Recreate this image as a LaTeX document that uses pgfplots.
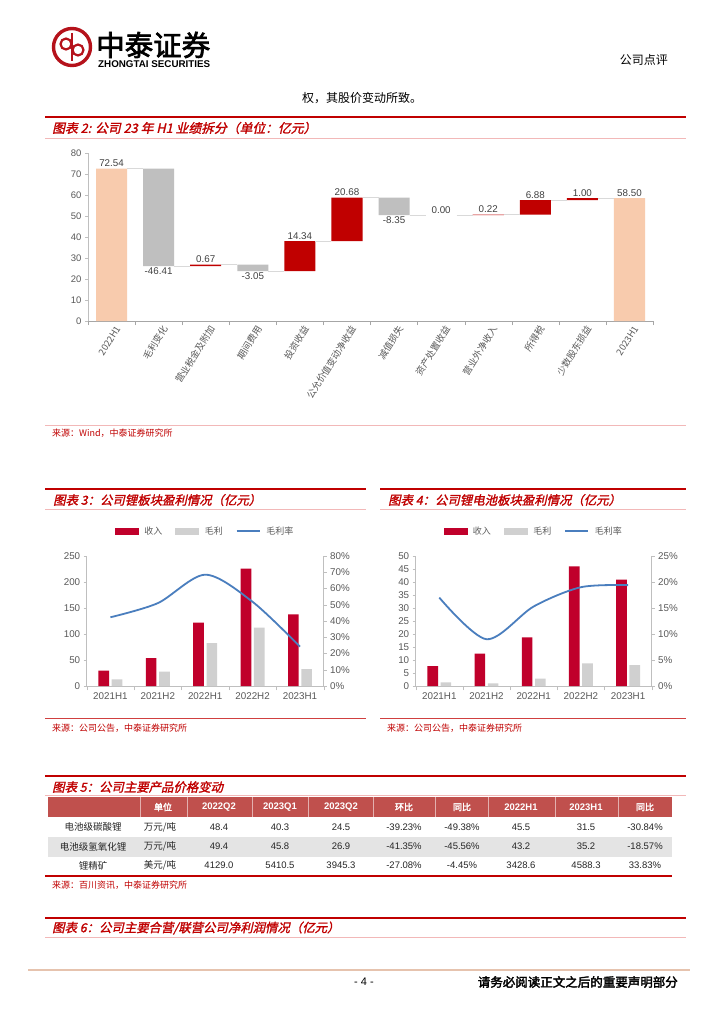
\documentclass[border=0pt]{standalone}
\usepackage{fontspec}
\setmainfont{Liberation Sans}
\newfontfamily\cjk{Noto Sans CJK SC}
\newfontfamily\cjkt[FakeSlant=0.22,FakeBold=1.6]{Noto Sans CJK SC}
\newfontfamily\cjkb[FakeBold=2.5]{Noto Sans CJK SC}
\usepackage{pgfplots}
\pgfplotsset{compat=1.18}
\usepackage{pgfplotstable}

\definecolor{titlered}{HTML}{C00000}
\definecolor{pinkline}{HTML}{F2B8B8}
\definecolor{peach}{HTML}{F8CBAD}
\definecolor{wfred}{HTML}{C00000}
\definecolor{wfgray}{HTML}{BFBFBF}
\definecolor{axgray}{HTML}{A6A6A6}
\definecolor{txtgray}{HTML}{595959}
\definecolor{wflab}{HTML}{404040}
\definecolor{conn}{HTML}{D9D9D9}
\definecolor{barred}{HTML}{C0002B}
\definecolor{bargray}{HTML}{D0D0D0}
\definecolor{lineblue}{HTML}{4A7EBE}
\definecolor{hdrred}{HTML}{C0504D}
\definecolor{rowgray}{HTML}{E4E4E4}
\definecolor{footline}{HTML}{E6C3AE}
\definecolor{logored}{HTML}{B5121B}
\definecolor{bodytxt}{HTML}{262626}

\newcommand{\fs}[1]{\fontsize{#1}{#1}\selectfont}

\pgfplotsset{/pgf/number format/assume math mode=true}

% waterfall: invisible base, start/end totals, increases, decreases
\pgfplotstableread{
x base total inc dec
0 0 72.54 0 0
1 26.13 0 0 46.41
2 26.13 0 0.67 0
3 23.75 0 0 3.05
4 23.75 0 14.34 0
5 38.09 0 20.68 0
6 50.42 0 0 8.35
7 50.42 0 0.00 0
8 50.42 0 0.22 0
9 50.64 0 6.88 0
10 57.52 0 1.00 0
11 0 58.50 0 0
}\wfdata
\pgfplotstableread{
x y lab
0 72.54 72.54
2 26.80 0.67
4 38.09 14.34
5 58.77 20.68
7 50.42 0.00
8 50.64 0.22
9 57.52 6.88
10 58.52 1.00
11 58.50 58.50
}\wfpos
\pgfplotstableread{
x y lab
1 26.13 -46.41
3 23.75 -3.05
6 50.42 -8.35
}\wfneg

\pgfplotsset{
  twoax/.style={scale only axis, anchor=south west,
    xmin=-0.5, xmax=4.5, xtick={0,...,4},
    xticklabels={2021H1,2021H2,2022H1,2022H2,2023H1},
    minor xtick={-0.5,0.5,...,4.5},
    major x tick style={draw=none},
    minor x tick style={draw=wfgray},
    minor tick length=4pt, major tick length=3pt,
    tick align=outside,
    axis x line*=bottom, axis y line*=left,
    axis line style={draw=wfgray, line width=0.7pt},
    ytick style={draw=wfgray},
    tick label style={font=\fs{9.8}, text=txtgray},
    ybar, bar width=0.225, clip=false},
  rightax/.style={scale only axis, anchor=south west,
    xmin=-0.5, xmax=4.5, axis x line=none, xtick=\empty,
    axis y line*=right, tick align=outside, major tick length=3pt,
    axis line style={draw=wfgray, line width=0.7pt},
    ytick style={draw=wfgray},
    tick label style={font=\fs{9.8}, text=txtgray},
    yticklabel={\pgfmathprintnumber[assume math mode=true]{\tick}\%}},
  mylegend/.style={legend style={at={(0.5,1)}, anchor=south, yshift=16pt,
    draw=none, fill=none, legend columns=3, font=\fs{9}\cjk, text=txtgray,
    /tikz/every even column/.append style={column sep=11pt},
    /tikz/every odd column/.append style={column sep=4pt}}},
  swr/.style={legend image code/.code={\fill[barred] (0pt,-2.6pt) rectangle (23pt,2.6pt);}},
  swg/.style={legend image code/.code={\fill[bargray] (0pt,-2.6pt) rectangle (23pt,2.6pt);}},
  swl/.style={legend image code/.code={\draw[lineblue,line width=1.6pt] (0pt,0pt) -- (23pt,0pt);}},
}

\begin{document}
\begin{tikzpicture}
\path[use as bounding box] (0pt,0pt) rectangle (724pt,-1024pt);
\fill[white] (0pt,0pt) rectangle (724pt,-1024pt);

\begin{scope}[x=1pt,y=-1pt]
% ---------- header ----------
\draw[logored,line width=3.4pt] (72,47) circle (18.5);
\draw[logored,line width=2.6pt] (72,33) -- (72,61);
\draw[logored,line width=2.2pt] (66,44) circle (5.5);
\draw[logored,line width=2.2pt] (78,50) circle (5.5);
\node[anchor=west, inner sep=0] at (96,45) {\fs{28.5}\cjkb 中泰证券};
\node[anchor=west, inner sep=0] at (98,64) {\fs{9.8}\bfseries ZHONGTAI SECURITIES};
\node[anchor=east, inner sep=0] at (668,60) {\fs{12}\cjk 公司点评};
\node[inner sep=0] at (362,98) {\fs{12}\cjk 权，其股价变动所致。};

% ---------- figure 2 ----------
\draw[titlered, line width=2.2pt] (45,117) -- (686,117);
\node[anchor=west, inner sep=0, text=titlered] at (52,128) {\fs{12.8}\cjkt 图表 2: 公司 23 年 H1 业绩拆分（单位：亿元）};
\draw[pinkline, line width=0.9pt] (45,138) -- (686,138);
\draw[pinkline, line width=0.9pt] (45,425) -- (686,425);
\node[anchor=west, inner sep=0, text=titlered] at (52,433) {\fs{9}\cjk 来源：Wind，中泰证券研究所};

% ---------- figure 3 / 4 ----------
\draw[titlered, line width=2pt] (45,489) -- (366,489);
\node[anchor=west, inner sep=0, text=titlered] at (53,500) {\fs{12.4}\cjkt 图表 3：公司锂板块盈利情况（亿元）};
\draw[pinkline, line width=0.9pt] (45,509.5) -- (366,509.5);
\draw[titlered!75, line width=0.9pt] (45,718) -- (366,718);
\node[anchor=west, inner sep=0, text=titlered] at (52,728) {\fs{9}\cjk 来源：公司公告，中泰证券研究所};

\draw[titlered, line width=2pt] (380,489) -- (686,489);
\node[anchor=west, inner sep=0, text=titlered] at (388,500) {\fs{12.4}\cjkt 图表 4：公司锂电池板块盈利情况（亿元）};
\draw[pinkline, line width=0.9pt] (380,509.5) -- (686,509.5);
\draw[titlered!75, line width=0.9pt] (380,718) -- (686,718);
\node[anchor=west, inner sep=0, text=titlered] at (387,728) {\fs{9}\cjk 来源：公司公告，中泰证券研究所};

% ---------- figure 5 (table) ----------
\draw[titlered, line width=2pt] (45,776) -- (686,776);
\node[anchor=west, inner sep=0, text=titlered] at (52,787) {\fs{12.4}\cjkt 图表 5：公司主要产品价格变动};
\draw[pinkline, line width=0.9pt] (45,795.5) -- (686,795.5);
\fill[hdrred] (48,797) rectangle (672,817);
\fill[rowgray] (48,837) rectangle (672,856.5);
\foreach \xx in {140,187,252,308,373,435,488,555,618}
  \draw[white!55!hdrred, line width=0.6pt] (\xx,797) -- (\xx,817);
\draw[titlered, line width=1.1pt] (45,876) -- (672,876);
\begin{scope}[every node/.style={inner sep=0, text=white}]
\node at (163,807) {\fs{9}\cjkb 单位};
\node at (219,807) {\fs{9.5}\bfseries 2022Q2};
\node at (280,807) {\fs{9.5}\bfseries 2023Q1};
\node at (341,807) {\fs{9.5}\bfseries 2023Q2};
\node at (404,807) {\fs{9}\cjkb 环比};
\node at (462,807) {\fs{9}\cjkb 同比};
\node at (521,807) {\fs{9.5}\bfseries 2022H1};
\node at (586,807) {\fs{9.5}\bfseries 2023H1};
\node at (645,807) {\fs{9}\cjkb 同比};
\end{scope}
\begin{scope}[every node/.style={inner sep=0, text=bodytxt, font=\fs{9.5}}]
\node at (93,827) {\cjk 电池级碳酸锂};
\node at (160,827) {\cjk 万元/吨};
\node at (219,827) {48.4};
\node at (280,827) {40.3};
\node at (341,827) {24.5};
\node at (404,827) {-39.23\%};
\node at (462,827) {-49.38\%};
\node at (521,827) {45.5};
\node at (586,827) {31.5};
\node at (645,827) {-30.84\%};
\node at (93,846.5) {\cjk 电池级氢氧化锂};
\node at (160,846.5) {\cjk 万元/吨};
\node at (219,846.5) {49.4};
\node at (280,846.5) {45.8};
\node at (341,846.5) {26.9};
\node at (404,846.5) {-41.35\%};
\node at (462,846.5) {-45.56\%};
\node at (521,846.5) {43.2};
\node at (586,846.5) {35.2};
\node at (645,846.5) {-18.57\%};
\node at (93,865.5) {\cjk 锂精矿};
\node at (160,865.5) {\cjk 美元/吨};
\node at (219,865.5) {4129.0};
\node at (280,865.5) {5410.5};
\node at (341,865.5) {3945.3};
\node at (404,865.5) {-27.08\%};
\node at (462,865.5) {-4.45\%};
\node at (521,865.5) {3428.6};
\node at (586,865.5) {4588.3};
\node at (645,865.5) {33.83\%};
\end{scope}
\node[anchor=west, inner sep=0, text=titlered] at (52,885) {\fs{9}\cjk 来源：百川资讯，中泰证券研究所};

% ---------- figure 6 ----------
\draw[titlered, line width=2pt] (45,918) -- (686,918);
\node[anchor=west, inner sep=0, text=titlered] at (52,928) {\fs{12.4}\cjkt 图表 6：公司主要合营/联营公司净利润情况（亿元）};
\draw[pinkline, line width=0.9pt] (45,937.5) -- (686,937.5);

% ---------- footer ----------
\draw[footline, line width=1.6pt] (28,970) -- (690,970);
\node[inner sep=0] at (364,982) {\fs{11}- 4 -};
\node[anchor=east, inner sep=0] at (678,982) {\fs{12.5}\cjkb 请务必阅读正文之后的重要声明部分};
\end{scope}

% ================= Figure 2: waterfall =================
\begin{axis}[at={(88pt,-321pt)}, anchor=south west, scale only axis,
  width=565pt, height=168pt,
  ybar stacked, bar width=0.66,
  xmin=-0.5, xmax=11.5, ymin=0, ymax=80,
  ytick={0,10,...,80},
  xtick={0,...,11},
  xticklabels={2022H1,毛利变化,营业税金及附加,期间费用,投资收益,公允价值变动净收益,减值损失,资产处置收益,营业外净收入,所得税,少数股东损益,2023H1},
  minor xtick={-0.5,0.5,...,11.5},
  major x tick style={draw=none},
  minor x tick style={draw=axgray},
  minor tick length=4pt, major tick length=3pt,
  tick align=outside,
  axis x line*=bottom, axis y line*=left,
  x axis line style={draw=axgray, line width=1pt},
  y axis line style={draw=wfgray, line width=0.7pt},
  ytick style={draw=wfgray},
  yticklabel style={font=\fs{9.5}, text=txtgray},
  xticklabel style={font=\fs{9.3}\cjk, text=txtgray, rotate=58, anchor=east, xshift=4.5pt, yshift=-7pt},
  clip=false]
\addplot[draw=none, fill=none] table[x=x, y=base] \wfdata;
\addplot[draw=none, fill=peach] table[x=x, y=total] \wfdata;
\addplot[draw=none, fill=wfred] table[x=x, y=inc] \wfdata;
\addplot[draw=none, fill=wfgray] table[x=x, y=dec] \wfdata;
\end{axis}

\begin{axis}[at={(88pt,-321pt)}, anchor=south west, scale only axis,
  width=565pt, height=168pt,
  xmin=-0.5, xmax=11.5, ymin=0, ymax=80, hide axis, clip=false]
\addplot[conn, line width=0.9pt, unbounded coords=jump] coordinates {
 (0.33,72.54) (0.67,72.54) (0.8,nan)
 (1.33,26.13) (1.67,26.13) (1.8,nan)
 (2.33,26.80) (2.67,26.80) (2.8,nan)
 (3.33,23.75) (3.67,23.75) (3.8,nan)
 (4.33,38.09) (4.67,38.09) (4.8,nan)
 (5.33,58.77) (5.67,58.77) (5.8,nan)
 (6.33,50.42) (6.67,50.42) (6.8,nan)
 (7.33,50.42) (7.67,50.42) (7.8,nan)
 (8.33,50.64) (8.67,50.64) (8.8,nan)
 (9.33,57.52) (9.67,57.52) (9.8,nan)
 (10.33,58.52) (10.67,58.52)
};
\addplot[draw=none, nodes near coords, point meta=explicit symbolic,
  every node near coord/.append style={anchor=south, font=\fs{9.8}, text=wflab, inner sep=1.6pt}]
  table[x=x, y=y, meta=lab] \wfpos;
\addplot[draw=none, nodes near coords, point meta=explicit symbolic,
  every node near coord/.append style={anchor=north, font=\fs{9.8}, text=wflab, inner sep=1.6pt}]
  table[x=x, y=y, meta=lab] \wfneg;
\end{axis}

% ================= Figure 3 =================
\begin{axis}[twoax, mylegend, at={(86.7pt,-686pt)}, width=237pt, height=130pt,
  ymin=0, ymax=250, ytick={0,50,...,250}]
\addlegendimage{swr}\addlegendentry{收入}
\addlegendimage{swg}\addlegendentry{毛利}
\addlegendimage{swl}\addlegendentry{毛利率}
\addplot[fill=barred, draw=none, bar shift=-0.14, forget plot] coordinates {(0,29.5) (1,53.8) (2,121.8) (3,225.6) (4,137.8)};
\addplot[fill=bargray, draw=none, bar shift=0.14, forget plot] coordinates {(0,12.8) (1,27.6) (2,82.7) (3,112.2) (4,32.7)};
\end{axis}
\begin{axis}[rightax, at={(86.7pt,-686pt)}, width=237pt, height=130pt,
  ymin=0, ymax=80, ytick={0,10,...,80}]
\addplot[lineblue, line width=1.8pt, smooth] coordinates {(0,42.3) (1,51.0) (2,68.5) (3,51.8) (4,24.2)};
\end{axis}

% ================= Figure 4 =================
\begin{axis}[twoax, mylegend, at={(415.7pt,-686pt)}, width=236pt, height=130pt,
  ymin=0, ymax=50, ytick={0,5,...,50}]
\addlegendimage{swr}\addlegendentry{收入}
\addlegendimage{swg}\addlegendentry{毛利}
\addlegendimage{swl}\addlegendentry{毛利率}
\addplot[fill=barred, draw=none, bar shift=-0.14, forget plot] coordinates {(0,7.6) (1,12.5) (2,18.7) (3,46.0) (4,40.9)};
\addplot[fill=bargray, draw=none, bar shift=0.14, forget plot] coordinates {(0,1.4) (1,1.0) (2,2.8) (3,8.7) (4,8.0)};
\end{axis}
\begin{axis}[rightax, at={(415.7pt,-686pt)}, width=236pt, height=130pt,
  ymin=0, ymax=25, ytick={0,5,...,25}]
\addplot[lineblue, line width=1.8pt, smooth] coordinates {(0,17.0) (1,9.0) (2,15.3) (3,19.0) (4,19.4)};
\end{axis}

\end{tikzpicture}
\end{document}
